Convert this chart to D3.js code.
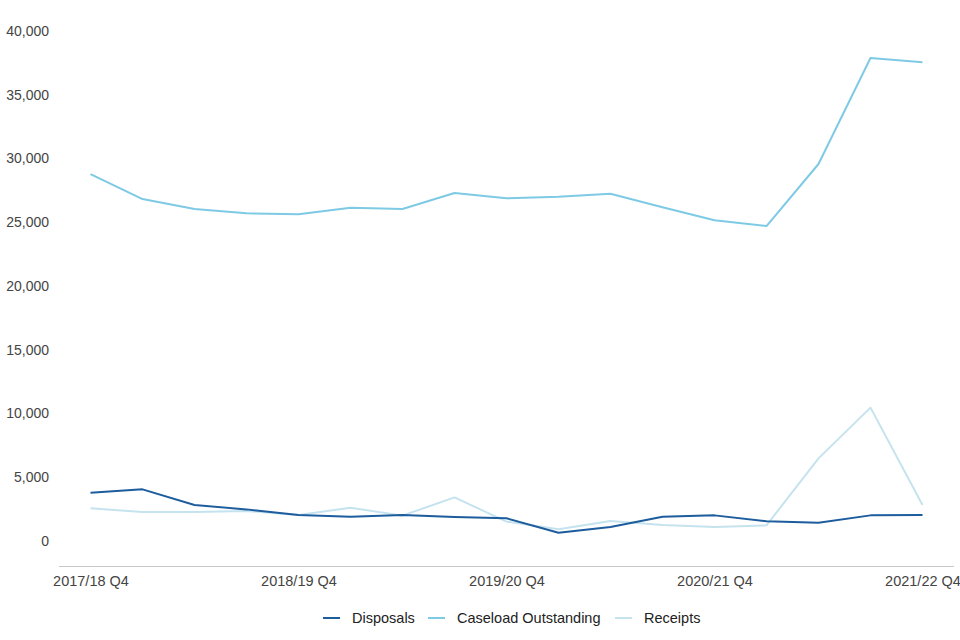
<!DOCTYPE html>
<html lang="en">
<head>
    <meta charset="utf-8">
    <title>Disposals, caseload outstanding and receipts</title>
    <script src="https://d3js.org/d3.v7.min.js"></script>
    <style>
        body { margin: 0; background: #fff; }
        text { font-family: "Liberation Sans", Arial, sans-serif; }
        .line { fill: none; stroke-width: 2px; stroke-linejoin: round; }
    </style>
</head>
<body>
<script type="text/javascript">

    var w = 960;
    var h = 640;

    // quarters, oldest first
    var quarters = [
        "2017/18 Q4", "2018/19 Q1", "2018/19 Q2", "2018/19 Q3",
        "2018/19 Q4", "2019/20 Q1", "2019/20 Q2", "2019/20 Q3",
        "2019/20 Q4", "2020/21 Q1", "2020/21 Q2", "2020/21 Q3",
        "2020/21 Q4", "2021/22 Q1", "2021/22 Q2", "2021/22 Q3",
        "2021/22 Q4"
    ];
    var xTickLabels = ["2017/18 Q4", "2018/19 Q4", "2019/20 Q4", "2020/21 Q4", "2021/22 Q4"];
    var yTicks = [0, 5000, 10000, 15000, 20000, 25000, 30000, 35000, 40000];

    var disposals = [3790, 4050, 2820, 2480, 2040, 1910, 2040, 1880, 1780,
        650, 1100, 1910, 2010, 1540, 1440, 2010, 2040];
    var caseload = [28780, 26820, 26040, 25700, 25620, 26140, 26040, 27290, 26880,
        27000, 27240, 26170, 25150, 24700, 29570, 37880, 37540];
    var receipts = [2560, 2270, 2270, 2350, 2040, 2610, 1990, 3420, 1520,
        920, 1570, 1250, 1100, 1230, 6480, 10460, 2820];

    var series = [
        {name: "Disposals", values: disposals, color: "#1d5c9d"},
        {name: "Caseload Outstanding", values: caseload, color: "#7ecae4"},
        {name: "Receipts", values: receipts, color: "#c5e3ee"}
    ];

    var svg = d3.select("body")
            .append("svg")
            .attr("width", w)
            .attr("height", h);

    var x = d3.scalePoint()
            .domain(quarters)
            .range([90.5, 922.5]);

    var y = d3.scaleLinear()
            .domain([-2000, 40000])
            .range([566.5, 31]);

    // y axis: labels only
    var yAxis = d3.axisLeft(y)
            .tickValues(yTicks)
            .tickFormat(d3.format(","))
            .tickSize(0)
            .tickPadding(0);

    var gy = svg.append("g")
            .attr("transform", "translate(49,0)")
            .call(yAxis);
    gy.select(".domain").remove();
    gy.selectAll("text")
            .attr("fill", "#444")
            .style("font-size", "14px")
            .style("font-family", "'Liberation Sans', Arial, sans-serif");

    // x axis baseline and labels
    svg.append("line")
            .attr("x1", 59).attr("x2", 954)
            .attr("y1", 566.5).attr("y2", 566.5)
            .attr("stroke", "#c8c8c8")
            .attr("stroke-width", 1);

    var xAxis = d3.axisBottom(x)
            .tickValues(xTickLabels)
            .tickSize(0)
            .tickPadding(9);

    var gx = svg.append("g")
            .attr("transform", "translate(0,566.5)")
            .call(xAxis);
    gx.select(".domain").remove();
    gx.selectAll("text")
            .attr("fill", "#444")
            .style("font-size", "14.5px")
            .style("font-family", "'Liberation Sans', Arial, sans-serif");

    var line = d3.line()
            .x(function (d, i) { return x(quarters[i]); })
            .y(function (d) { return y(d); });

    // draw lightest first so darker lines sit on top
    svg.selectAll("path.line")
            .data(series.slice().reverse())
            .enter()
            .append("path")
            .attr("class", "line")
            .attr("stroke", function (d) { return d.color; })
            .attr("d", function (d) { return line(d.values); });

    // legend
    var legendX = [323, 428, 615];
    var legend = svg.selectAll("g.legend")
            .data(series)
            .enter()
            .append("g")
            .attr("class", "legend")
            .attr("transform", function (d, i) { return "translate(" + legendX[i] + ",618)"; });

    legend.append("line")
            .attr("x1", 0).attr("x2", 17)
            .attr("y1", 0).attr("y2", 0)
            .attr("stroke", function (d) { return d.color; })
            .attr("stroke-width", 2);

    legend.append("text")
            .attr("x", 29)
            .attr("dy", "0.35em")
            .attr("fill", "#222")
            .style("font-size", "14.5px")
            .text(function (d) { return d.name; });

</script>
</body>
</html>
